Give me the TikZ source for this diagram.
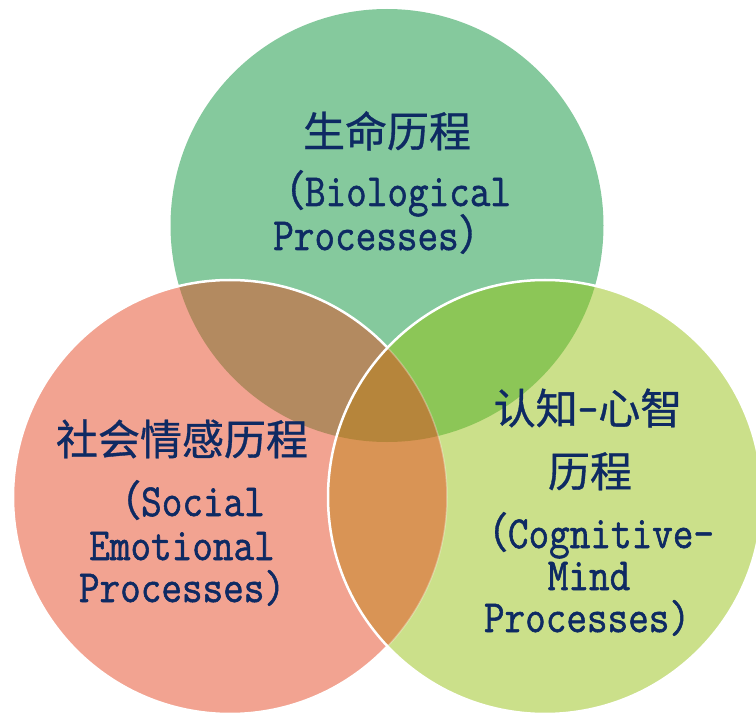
\documentclass[tikz,border=0pt]{standalone}
\usepackage{fontspec}
\setmainfont{Latin Modern Mono}[Scale=1.095,FakeStretch=0.87,FakeBold=1.2]
\newfontfamily\cjk{Noto Sans CJK SC}[FakeBold=0.8]
\definecolor{colT}{HTML}{85C99D}
\definecolor{colL}{HTML}{F2A391}
\definecolor{colR}{HTML}{CBE08A}
\definecolor{colTL}{HTML}{B38A60}
\definecolor{colTR}{HTML}{8CC657}
\definecolor{colLR}{HTML}{D99455}
\definecolor{colTLR}{HTML}{B6853B}
\definecolor{navy}{HTML}{0E2A63}
\begin{document}
\begin{tikzpicture}[x=1pt,y=-1pt,
  lbl/.style={text=navy,inner sep=0pt,anchor=base,font=\fontsize{42}{44}\selectfont},
  rim/.style={draw=white,line width=2.5pt}]
\useasboundingbox (0,0) rectangle (756,714);
\coordinate (T) at (387,225.5);
\coordinate (L) at (230,497);
\coordinate (R) at (545,497);
\def\rT{216.5pt}
\def\rr{217pt}
% base circles
\fill[colT] (T) circle[radius=\rT];
\fill[colL] (L) circle[radius=\rr];
\begin{scope}
  \clip (T) circle[radius=\rT];
  \fill[colTL] (L) circle[radius=\rr];
\end{scope}
\draw[rim] (L) circle[radius=\rr];
\fill[colR] (R) circle[radius=\rr];
\begin{scope}
  \clip (T) circle[radius=\rT];
  \fill[colTR] (R) circle[radius=\rr];
\end{scope}
\begin{scope}
  \clip (L) circle[radius=\rr];
  \fill[colLR] (R) circle[radius=\rr];
  \clip (T) circle[radius=\rT];
  \fill[colTLR] (R) circle[radius=\rr];
\end{scope}
\begin{scope}
  \clip (R) circle[radius=\rr];
  \draw[draw=white,line width=1.5pt,opacity=0.3] (L) circle[radius=\rr];
\end{scope}
\draw[rim] (R) circle[radius=\rr];
% texts: top
\node[lbl] (t1) at (387,147) {\cjk 生命历程};
\node[lbl] (t2) at (387,206) {{\cjk （}Biological};
\node[lbl] (t3) at (387,250) {Processes{\cjk ）}};
% left
\node[lbl] (l1) at (182,455) {\cjk 社会情感历程};
\node[lbl] (l2) at (182,516) {{\cjk （}Social};
\node[lbl] (l3) at (182,560) {Emotional};
\node[lbl] (l4) at (182,602) {Processes)};
% right
\node[lbl] (r1) at (588,424) {{\cjk 认知}-{\cjk 心智}};
\node[lbl] (r2) at (590,487) {\cjk 历程};
\node[lbl] (r3) at (590,548) {{\cjk （}Cognitive-};
\node[lbl] (r4) at (589,590) {Mind};
\node[lbl] (r5) at (587,632) {Processes)};
\end{tikzpicture}
\end{document}
